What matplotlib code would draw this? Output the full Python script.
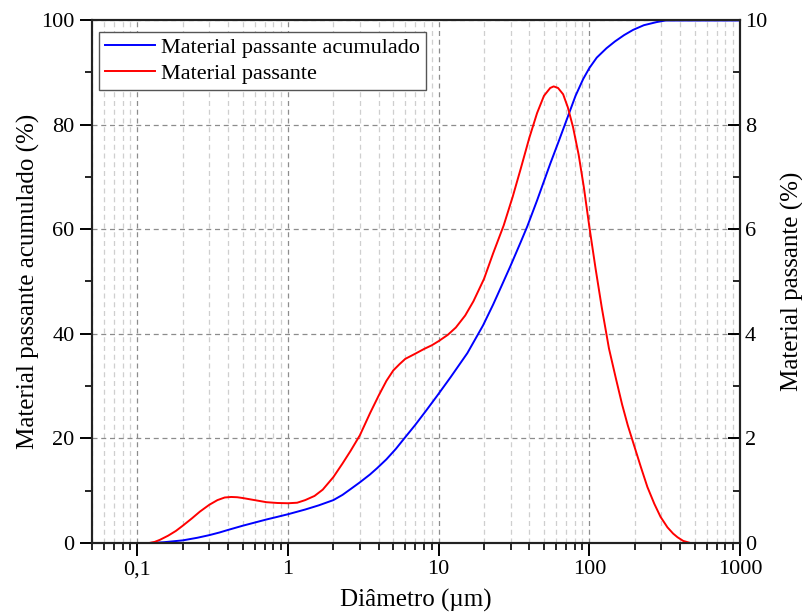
### Curva granulometrica: passante acumulado e passante por faixa ###
import matplotlib
matplotlib.use('Agg')
import matplotlib.pyplot as plt
from matplotlib.ticker import FixedLocator, LogLocator, NullFormatter, FuncFormatter

plt.rcParams['font.family'] = ['Liberation Serif', 'DejaVu Serif']

# material passante acumulado (%), eixo da esquerda
diam_acum = [0.12, 0.15, 0.2, 0.25, 0.3, 0.35, 0.4, 0.5, 0.6, 0.72, 0.85,
             1.0, 1.3, 1.6, 2.0, 2.3, 2.6, 3.0, 3.5, 3.9, 4.5, 5.2, 5.8,
             7.0, 8.3, 9.8, 12, 15.5, 19.7, 23, 26, 30, 35, 38.7, 45, 55,
             63, 72.6, 81, 91, 100, 112, 130, 148, 170, 195, 230, 280, 320,
             1000]
acum = [0.0, 0.15, 0.5, 1.0, 1.5, 2.0, 2.5, 3.3, 3.9, 4.5, 5.0,
        5.5, 6.4, 7.2, 8.2, 9.2, 10.3, 11.6, 13.1, 14.3, 16.0, 18.0, 19.7,
        22.6, 25.4, 28.2, 31.7, 36.3, 41.6, 45.6, 49.0, 53.0, 57.5, 60.5,
        65.5, 72.5, 77.0, 81.8, 85.5, 88.7, 90.8, 92.8, 94.6, 95.9, 97.1,
        98.1, 99.0, 99.6, 99.9, 99.9]

# material passante (%), eixo da direita
diam_pass = [0.05, 0.12, 0.13, 0.141, 0.16, 0.18, 0.2, 0.23, 0.26, 0.3,
             0.34, 0.38, 0.42, 0.46, 0.5, 0.6, 0.72, 0.85, 1.0, 1.15, 1.3,
             1.5, 1.7, 2.0, 2.3, 2.6, 3.0, 3.5, 4.0, 4.5, 5.0, 5.5, 6.0,
             7.0, 8.0, 9.0, 10, 11.5, 13, 15, 17, 20, 23, 27, 31, 35, 40,
             45, 50, 55, 58, 62, 67, 72, 78, 85, 92, 100, 110, 121, 135,
             150, 165, 180, 196, 220, 243, 270, 297, 330, 360, 385, 420,
             468, 840]
passante = [0.0, 0.0, 0.02, 0.06, 0.14, 0.23, 0.33, 0.47, 0.60, 0.73,
            0.82, 0.87, 0.88, 0.875, 0.86, 0.82, 0.78, 0.765, 0.76, 0.77,
            0.82, 0.90, 1.02, 1.26, 1.52, 1.76, 2.06, 2.48, 2.82, 3.10,
            3.30, 3.42, 3.52, 3.62, 3.71, 3.78, 3.86, 3.98, 4.12, 4.35,
            4.62, 5.05, 5.54, 6.07, 6.62, 7.15, 7.75, 8.22, 8.55, 8.70,
            8.73, 8.70, 8.58, 8.33, 7.95, 7.42, 6.80, 6.05, 5.25, 4.50,
            3.72, 3.15, 2.65, 2.25, 1.91, 1.45, 1.07, 0.75, 0.50, 0.30,
            0.18, 0.11, 0.04, 0.0, 0.0]

x_ticks = [0.1, 1, 10, 100, 1000]
x_labels = ['0,1', '1', '10', '100', '1000']

FS = 16   # numeros e legenda
FS_LAB = 18   # titulos dos eixos

fig = plt.figure(figsize=(8.03, 6.13), dpi=100)
ax = fig.add_axes([0.1146, 0.1142, 0.8069, 0.8532])
ax2 = ax.twinx()

l1, = ax.plot(diam_acum, acum, color='#0000ff', lw=1.4,
              label='Material passante acumulado')
l2, = ax2.plot(diam_pass, passante, color='#ff0000', lw=1.4,
               label='Material passante')

ax.set_xscale('log')
ax.set_xlim(0.05, 1000)
ax.set_ylim(0, 100)
ax2.set_ylim(0, 10)

ax.xaxis.set_major_locator(FixedLocator(x_ticks))
ax.xaxis.set_major_formatter(FuncFormatter(lambda v, p: x_labels[x_ticks.index(v)]
                                           if v in x_ticks else ''))
ax.xaxis.set_minor_locator(LogLocator(base=10, subs=range(2, 10), numticks=20))
ax.xaxis.set_minor_formatter(NullFormatter())
ax.set_yticks(range(0, 101, 20))
ax.set_yticks(range(10, 100, 20), minor=True)
ax2.set_yticks(range(0, 11, 2))
ax2.set_yticks(range(1, 10, 2), minor=True)

ax.grid(True, which='major', axis='both', color='#8c8c8c', ls=(0, (4, 3)), lw=0.9)
ax.grid(True, which='minor', axis='x', color='#cfcfcf', ls=(0, (4, 3)), lw=0.9)

ax.tick_params(axis='both', which='major', labelsize=FS, width=1.4, length=9,
               direction='out', top=False, right=False)
ax.tick_params(axis='both', which='minor', width=1.2, length=5, direction='out',
               top=False, right=False)
ax2.tick_params(axis='y', which='major', labelsize=FS, width=1.4, length=9,
                direction='in')
ax2.tick_params(axis='y', which='minor', width=1.2, length=5, direction='in')

for a in (ax, ax2):
    for s in a.spines.values():
        s.set_linewidth(1.5)
        s.set_color('#222222')

ax.set_xlabel('Diâmetro (µm)', fontsize=FS_LAB, labelpad=7)
ax.set_ylabel('Material passante acumulado (%)', fontsize=FS_LAB, labelpad=1)
ax2.set_ylabel('Material passante (%)', fontsize=FS_LAB, labelpad=10)

leg = ax2.legend(handles=[l1, l2], loc='upper left',
                 bbox_to_anchor=(0.0108, 0.977), borderaxespad=0,
                 fontsize=FS, fancybox=False, framealpha=1,
                 edgecolor='#555555', handlelength=2.25, handletextpad=0.3,
                 borderpad=0.25, labelspacing=0.25)
leg.get_frame().set_linewidth(1.0)

fig.savefig('out.png', dpi=100)
